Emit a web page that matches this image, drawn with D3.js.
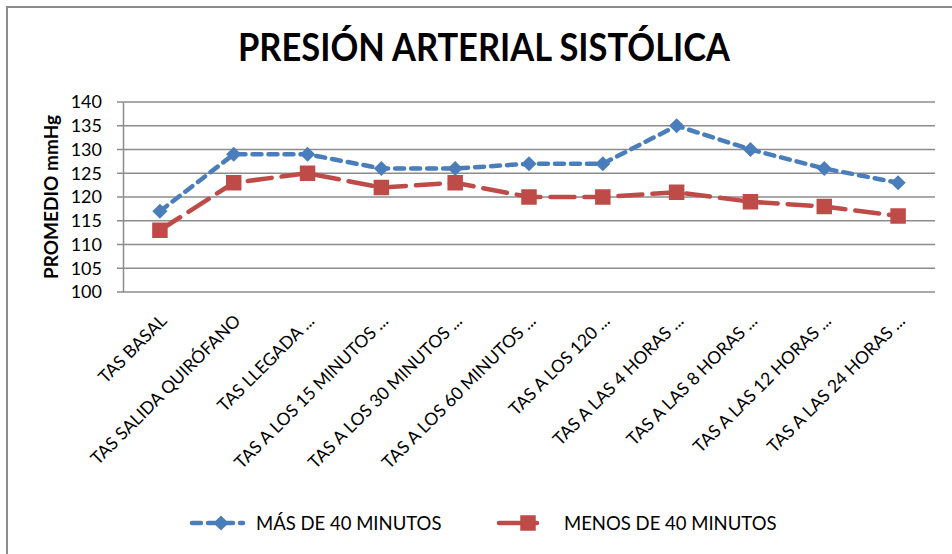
<!DOCTYPE html>
<html>
<head>
<meta charset="utf-8">
<script src="https://cdn.jsdelivr.net/npm/d3@7"></script>
<style>
  body { margin: 0; background: #fff; }
  text { font-family: Lato, "Open Sans", sans-serif; fill: #000; }
</style>
</head>
<body>
<div id="chart"></div>
<script>
// Datos del gráfico
const categorias = [
  "TAS BASAL", "TAS SALIDA QUIRÓFANO", "TAS LLEGADA ...", "TAS A LOS 15 MINUTOS ...",
  "TAS A LOS 30 MINUTOS ...", "TAS A LOS 60 MINUTOS ...", "TAS A LOS 120 ...",
  "TAS A LAS 4 HORAS ...", "TAS A LAS 8 HORAS ...", "TAS A LAS 12 HORAS ...", "TAS A LAS 24 HORAS ..."
];
const masDe40 = [117, 129, 129, 126, 126, 127, 127, 135, 130, 126, 123];
const menosDe40 = [113, 123, 125, 122, 123, 120, 120, 121, 119, 118, 116];
const yTicks = [100, 105, 110, 115, 120, 125, 130, 135, 140];

const width = 952, height = 554;
const plot = { left: 123, right: 935, top: 102, bottom: 292 };

const svg = d3.select("#chart").append("svg")
  .attr("width", width).attr("height", height);

// Borde exterior
svg.append("rect")
  .attr("x", 7).attr("y", 7).attr("width", 960).attr("height", 560)
  .attr("fill", "none").attr("stroke", "#8c8c8c").attr("stroke-width", 2);

// Título
svg.append("text")
  .attr("x", 238).attr("y", 61)
  .attr("textLength", 492).attr("lengthAdjust", "spacingAndGlyphs")
  .style("font-size", "39px").style("font-weight", "bold")
  .text("PRESIÓN ARTERIAL SISTÓLICA");

// Escalas
const x = d3.scaleBand().domain(categorias).range([plot.left, plot.right]);
const y = d3.scaleLinear().domain([100, 140]).range([plot.bottom, plot.top]);

// Líneas de cuadrícula
svg.append("g")
  .selectAll("line").data(yTicks).enter().append("line")
  .attr("x1", plot.left - 6).attr("x2", plot.right)
  .attr("y1", d => y(d)).attr("y2", d => y(d))
  .attr("stroke", "#8c8c8c").attr("stroke-width", 1.5);

// Eje Y
const yAxis = svg.append("g")
  .attr("transform", `translate(${plot.left},0)`)
  .call(d3.axisLeft(y).tickValues(yTicks).tickSize(0).tickPadding(21));
yAxis.select(".domain").attr("stroke", "#8c8c8c").attr("stroke-width", 1.5);
yAxis.selectAll("text").style("font-size", "18px").attr("fill", "#000");

// Eje X
const xAxis = svg.append("g")
  .attr("transform", `translate(0,${plot.bottom})`)
  .call(d3.axisBottom(x).tickSize(0).tickPadding(0));
xAxis.select(".domain").remove();
xAxis.selectAll("text")
  .style("font-size", "17.5px").attr("fill", "#000")
  .attr("text-anchor", "end")
  .attr("dy", 0).attr("y", 0)
  .attr("transform", "translate(8,30) rotate(-45)");

// Etiqueta eje Y
svg.append("text")
  .attr("transform", `translate(58,${(plot.top + plot.bottom) / 2}) rotate(-90)`)
  .attr("text-anchor", "middle")
  .style("font-size", "19px").style("font-weight", "bold")
  .text("PROMEDIO mmHg");

// Series
const blue = "#4a7ebb", red = "#be4b48";
const line = d3.line().x((d, i) => x(categorias[i]) + x.bandwidth() / 2).y(d => y(d));

svg.append("path").datum(masDe40)
  .attr("d", line).attr("fill", "none")
  .attr("stroke", blue).attr("stroke-width", 4.5)
  .attr("stroke-dasharray", "9,7").attr("stroke-linecap", "round");

svg.append("path").datum(menosDe40)
  .attr("d", line).attr("fill", "none")
  .attr("stroke", red).attr("stroke-width", 4.5)
  .attr("stroke-dasharray", "24,10").attr("stroke-linecap", "round");

const diamond = d3.symbol().type(d3.symbolSquare).size(115);
const square = d3.symbol().type(d3.symbolSquare).size(240);

svg.append("g").selectAll("path").data(masDe40).enter().append("path")
  .attr("d", diamond)
  .attr("transform", (d, i) => `translate(${x(categorias[i]) + x.bandwidth() / 2},${y(d)}) rotate(45)`)
  .attr("fill", blue);

svg.append("g").selectAll("path").data(menosDe40).enter().append("path")
  .attr("d", square)
  .attr("transform", (d, i) => `translate(${x(categorias[i]) + x.bandwidth() / 2},${y(d)})`)
  .attr("fill", red);

// Leyenda
const legendY = 523;
const lg1 = svg.append("g");
lg1.append("line").attr("x1", 192).attr("x2", 243).attr("y1", legendY).attr("y2", legendY)
  .attr("stroke", blue).attr("stroke-width", 4.5).attr("stroke-dasharray", "9,7").attr("stroke-linecap", "round");
lg1.append("path").attr("d", diamond).attr("transform", `translate(221,${legendY}) rotate(45)`).attr("fill", blue);
lg1.append("text").attr("x", 256).attr("y", legendY + 7).style("font-size", "18.5px").text("MÁS DE 40 MINUTOS");

const lg2 = svg.append("g");
lg2.append("line").attr("x1", 499).attr("x2", 537).attr("y1", legendY).attr("y2", legendY)
  .attr("stroke", red).attr("stroke-width", 4.5).attr("stroke-linecap", "round");
lg2.append("path").attr("d", square).attr("transform", `translate(528,${legendY})`).attr("fill", red);
lg2.append("text").attr("x", 564).attr("y", legendY + 7).style("font-size", "18.5px").text("MENOS DE 40 MINUTOS");
</script>
</body>
</html>
